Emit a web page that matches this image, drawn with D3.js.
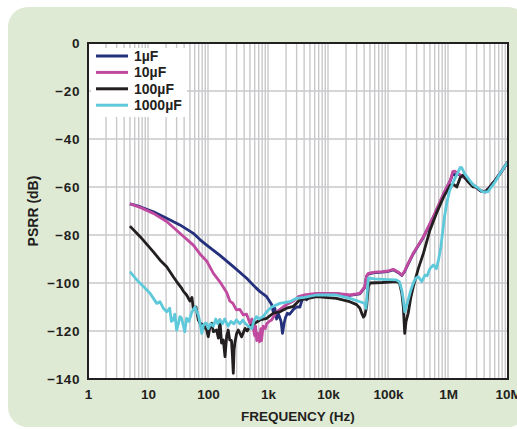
<!DOCTYPE html>
<html><head><meta charset="utf-8">
<script src="https://cdn.jsdelivr.net/npm/d3@7"></script>
<style>
html,body{margin:0;padding:0;background:#fff;}
svg{display:block;}
text{font-family:"Liberation Sans",Arial,Helvetica,sans-serif;font-weight:bold;fill:#231f20;}
</style></head>
<body>
<script>
// ---- data (frequency Hz, PSRR dB) ----
const seriesNames = ["1\u00b5F","10\u00b5F","100\u00b5F","1000\u00b5F"];
const seriesColors = ["#25307d","#c04a9f","#231f20","#5ec9db"];
const xTickValues = [1,10,100,1e3,1e4,1e5,1e6,1e7];
const xTickLabels = ["1","10","100","1k","10k","100k","1M","10M"];
const yTickValues = [0,-20,-40,-60,-80,-100,-120,-140];

const tail = [[2.4e6,-58.2],[2.9e6,-60],[3.5e6,-61.6],[4.2e6,-62],[4.8e6,-60.5],[6e6,-57.5],[7.4e6,-54.3],[1e7,-49.5]];

const psrr1uF = [[5,-67],[7.4,-68.2],[10,-69.5],[12.3,-70.3],[20.5,-73],[34,-75.8],[57,-79.3],[74,-82],[95,-84.2],[158,-88.5],[264,-93.2],[441,-98],[600,-101.5],[736,-103.6],[950,-105.7],[1075,-107.8],[1150,-109],[1220,-112],[1300,-110.5],[1390,-115],[1500,-113],[1650,-116],[1745,-121],[1850,-117],[1950,-114.5],[2100,-112.6],[2300,-113],[2660,-111],[3000,-110],[3400,-110],[3700,-107],[3900,-106],[4400,-107],[5000,-105.5],[6400,-105],[13800,-104.5],[23000,-105.2],[34000,-104.5],[41000,-101.8],[44000,-97.2],[47000,-96.2],[60000,-95.7],[80000,-95.5],[100000,-95.2],[122000,-94.5],[150000,-95.7],[170000,-96.9],[190000,-95.2],[204000,-93.4],[264000,-87.8],[390000,-80.9],[570000,-72.6],[850000,-62.8],[1.1e6,-57.2],[1.2e6,-54.5],[1.3e6,-55],[1.46e6,-54.6],[1.8e6,-55.8]].concat(tail);

const psrr10uF = [[5,-67],[7.4,-68.5],[12.3,-71],[20.5,-74.4],[34,-79.3],[57,-84.2],[74,-88],[95,-90.8],[123,-96],[158,-99.5],[205,-104],[231,-107.5],[260,-108.5],[297,-111.2],[340,-111],[387,-113.3],[440,-113],[500,-116.8],[540,-115],[580,-120],[600,-122],[620,-118],[650,-124],[685,-121],[720,-124.5],[760,-119],[780,-124],[830,-118],[900,-119],[950,-117],[1050,-116],[1150,-115.4],[1390,-112],[1780,-110],[2200,-108.5],[2660,-107.5],[3200,-105.7],[4000,-105],[6400,-104.3],[13800,-104.3],[23000,-105],[34000,-104.3],[41000,-101.5],[44000,-97],[47000,-96],[60000,-95.5],[80000,-95.3],[100000,-95],[122000,-94.3],[150000,-95.5],[170000,-96.7],[190000,-95],[204000,-93.2],[264000,-87.6],[390000,-80.7],[570000,-72.4],[850000,-62.6],[1.1e6,-57],[1.2e6,-53.6],[1.3e6,-53.4],[1.46e6,-54.3],[1.8e6,-55.7]].concat(tail);

const psrr100uF = [[5,-76.3],[7.4,-80.7],[12.3,-87],[15.8,-90.4],[20.5,-93.2],[26.4,-97.4],[30,-99.4],[36,-102],[39,-103.5],[44,-105],[50,-107.5],[54,-106],[57,-111],[63,-110],[69,-115.4],[74,-116.8],[84,-117.5],[95,-119.6],[101,-122.4],[108,-118],[115,-116.8],[123,-120.3],[139,-119.6],[149,-123],[158,-115.4],[168,-125],[180,-123.7],[192,-130.7],[205,-122],[217,-119.6],[230,-123.7],[246,-124],[255,-130],[264,-137.6],[272,-128],[280,-125],[300,-121],[320,-119.6],[364,-122.4],[415,-118.9],[450,-120],[500,-118],[600,-116.8],[736,-115.4],[950,-114.7],[1220,-112.6],[1580,-112],[2040,-110.5],[2660,-109.7],[3400,-107],[4500,-106.5],[6400,-105.7],[13800,-106.4],[23000,-107.8],[30000,-109],[34000,-110.5],[37000,-113],[39000,-114.2],[41000,-113.5],[44000,-110],[47000,-101.5],[50000,-100],[80000,-99.8],[137000,-99.4],[155000,-100],[170000,-104.3],[180000,-110],[190000,-121],[200000,-116],[217000,-112.6],[240000,-106],[264000,-101.5],[320000,-94],[390000,-87.6],[500000,-78],[640000,-71],[850000,-64],[1.1e6,-59.2],[1.25e6,-59],[1.4e6,-60],[1.6e6,-56],[1.8e6,-55],[2.1e6,-57.5],[2.6e6,-59.9]].concat(tail.slice(1));

const psrr1000uF = [[5,-95.3],[6.5,-98.7],[8.4,-101.5],[10.8,-104.3],[12.3,-106.4],[14,-108.5],[15.8,-107.8],[18,-110.5],[20.5,-112],[23,-110.5],[24.5,-116],[26.4,-115.4],[28,-113],[30,-119.6],[32,-117],[34,-114],[36,-114.5],[39,-118],[41,-120.3],[44,-114.7],[48,-116],[53,-112.6],[57,-111],[61,-110],[65,-112],[69,-113.3],[74,-117],[79,-121],[84,-117.5],[89,-116.8],[95,-116.8],[101,-119],[110,-117],[123,-118],[135,-115],[145,-117],[158,-115.4],[175,-117],[190,-115],[217,-118],[240,-116],[270,-117],[297,-115.4],[340,-117],[380,-115.5],[415,-116.8],[470,-118],[535,-119],[580,-116],[640,-114],[700,-115],[830,-114],[950,-112],[1150,-110],[1580,-108.5],[2300,-107.8],[3000,-106.4],[4000,-106],[6400,-105],[13800,-105],[23000,-106.4],[34000,-107.8],[41000,-108.5],[43000,-110.6],[45000,-104],[47000,-98],[60000,-98.3],[83000,-98.5],[137000,-98.7],[155000,-99.5],[170000,-103],[180000,-107],[190000,-112],[200000,-110],[217000,-107],[240000,-103],[264000,-100],[290000,-98],[320000,-97.4],[364000,-99.4],[390000,-98],[415000,-96.7],[450000,-97],[500000,-94],[570000,-92.5],[640000,-94],[700000,-90],[760000,-85],[820000,-78],[880000,-72],[950000,-67],[1.05e6,-62],[1.15e6,-59.5],[1.3e6,-56.5],[1.46e6,-54],[1.6e6,-51.8],[1.7e6,-52],[1.9e6,-54.5],[2.6e6,-59],[3e6,-60],[3.8e6,-62],[4.6e6,-62],[6.1e6,-57.8],[7.4e6,-54.3],[1e7,-49.5]];

const seriesData = [psrr1uF, psrr10uF, psrr100uF, psrr1000uF];

// ---- layout ----
const W = 517, H = 429;
const plot = {l:88, r:508, t:43, b:379};
const svg = d3.select("body").append("svg").attr("width",W).attr("height",H);

svg.append("rect").attr("x",8).attr("y",7).attr("width",520).attr("height",420)
  .attr("rx",20).attr("ry",20).attr("fill","#dfead5");

const x = d3.scaleLog().domain([1,1e7]).range([plot.l,plot.r]);
const y = d3.scaleLinear().domain([-140,0]).range([plot.b,plot.t]);

svg.append("rect").attr("x",plot.l).attr("y",plot.t).attr("width",plot.r-plot.l).attr("height",plot.b-plot.t).attr("fill","#fff");

// grid
const vGrid = [];
for (let d=0; d<7; d++) for (let k=1; k<10; k++) { const v=k*Math.pow(10,d); if (v>1 && v<1e7) vGrid.push(v); }
const grid = svg.append("g").attr("stroke","#c9c9cb").attr("stroke-width",1.4);
grid.selectAll("line.v").data(vGrid).join("line").attr("class","v")
  .attr("x1",d=>x(d)).attr("x2",d=>x(d)).attr("y1",plot.t).attr("y2",plot.b);
grid.selectAll("line.h").data(yTickValues.filter(v=>v>-140&&v<0)).join("line").attr("class","h")
  .attr("x1",plot.l).attr("x2",plot.r).attr("y1",d=>y(d)).attr("y2",d=>y(d));

// legend box (white, covers grid)
const leg = svg.append("g");
leg.append("rect").attr("x",91).attr("y",48).attr("width",96).attr("height",69).attr("fill","#fff");
seriesNames.forEach((n,i)=>{
  const yy = 56 + i*16.4;
  leg.append("line").attr("x1",96).attr("x2",128).attr("y1",yy).attr("y2",yy)
    .attr("stroke",seriesColors[i]).attr("stroke-width",3);
  leg.append("text").attr("x",134).attr("y",yy+5).attr("font-size",14).text(n);
});

// curves
const line = d3.line().x(d=>x(d[0])).y(d=>y(d[1])).curve(d3.curveLinear);
seriesData.forEach((s,i)=>{
  svg.append("path").datum(s).attr("d",line).attr("fill","none")
    .attr("stroke",seriesColors[i]).attr("stroke-width",2.8).attr("stroke-linejoin","round");
});

// frame
svg.append("rect").attr("x",plot.l).attr("y",plot.t).attr("width",plot.r-plot.l).attr("height",plot.b-plot.t)
  .attr("fill","none").attr("stroke","#231f20").attr("stroke-width",2);

// axes
const xAxis = d3.axisBottom(x).tickValues(xTickValues).tickFormat((d,i)=>xTickLabels[i]).tickSize(0).tickPadding(10);
const gx = svg.append("g").attr("transform",`translate(0,${plot.b})`).call(xAxis);
gx.select(".domain").remove();
gx.selectAll("text").attr("font-size",13.5).attr("font-family","Liberation Sans, Arial, sans-serif").attr("font-weight","bold").attr("fill","#231f20");

const yAxis = d3.axisLeft(y).tickValues(yTickValues).tickFormat(d=> d===0?"0":"\u2212"+Math.abs(d)).tickSize(0).tickPadding(8);
const gy = svg.append("g").attr("transform",`translate(${plot.l},0)`).call(yAxis);
gy.select(".domain").remove();
gy.selectAll("text").attr("font-size",13.5).attr("letter-spacing",0.6).attr("font-family","Liberation Sans, Arial, sans-serif").attr("font-weight","bold").attr("fill","#231f20");

svg.append("text").attr("x",(plot.l+plot.r)/2).attr("y",421).attr("text-anchor","middle")
  .attr("font-size",13.5).text("FREQUENCY (Hz)");
svg.append("text").attr("transform",`translate(38,${(plot.t+plot.b)/2}) rotate(-90)`).attr("text-anchor","middle")
  .attr("font-size",14).text("PSRR (dB)");
</script>
</body></html>
